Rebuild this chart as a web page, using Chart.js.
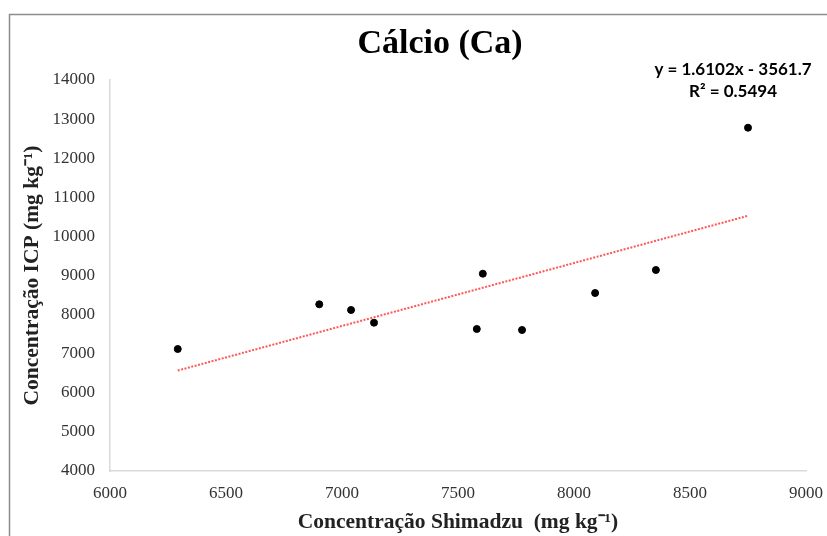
<!DOCTYPE html>
<html>
<head>
<meta charset="utf-8">
<script src="https://cdn.jsdelivr.net/npm/chart.js@4/dist/chart.umd.min.js"></script>
<style>
  html, body { margin: 0; padding: 0; background: #fff; }
  #wrap { width: 827px; height: 536px; }
</style>
</head>
<body>
<div id="wrap"><canvas id="calcio" width="827" height="536"></canvas></div>
<script>
// Ca concentrations, Shimadzu vs ICP (mg/kg)
const shimadzu = [6292, 6902, 7039, 7138, 7581, 7607, 7776, 8091, 8353, 8750];
const icp      = [7120, 8263, 8118, 7793, 7632, 9046, 7606, 8552, 9141, 12780];

// linear trend as reported
const slope = 1.6102;
const intercept = -3561.7;
const r2 = 0.5494;

const xTicks = [6000, 6500, 7000, 7500, 8000, 8500, 9000];
const yTicks = [4000, 5000, 6000, 7000, 8000, 9000, 10000, 11000, 12000, 13000, 14000];

const points = shimadzu.map((x, i) => ({x: x, y: icp[i]}));
const xMin = Math.min(...shimadzu), xMax = Math.max(...shimadzu);
const trend = [xMin, xMax].map(x => ({x: x, y: slope * x + intercept}));

const eqLine = 'y = ' + slope.toFixed(4) + 'x - ' + Math.abs(intercept).toFixed(1);
const r2Line = 'R\u00B2 = ' + r2.toFixed(4);

const serif = '"Liberation Serif", "Times New Roman", serif';

const frame = {
  id: 'frame',
  afterDraw(chart) {
    const ctx = chart.ctx;
    ctx.save();
    // outer frame (top and left edges)
    ctx.strokeStyle = '#8c8c8c';
    ctx.lineWidth = 1.5;
    ctx.beginPath();
    ctx.moveTo(9.5, 536);
    ctx.lineTo(9.5, 14.5);
    ctx.lineTo(827, 14.5);
    ctx.stroke();
    // chart title
    ctx.fillStyle = '#000';
    ctx.textAlign = 'center';
    ctx.textBaseline = 'middle';
    ctx.font = 'bold 34px ' + serif;
    ctx.fillText('Cálcio (Ca)', 440, 44);
    // trendline equation
    ctx.font = 'bold 17px Lato';
    ctx.fillText(eqLine, 733, 70);
    ctx.fillText(r2Line, 733, 92);
    ctx.restore();
  }
};

const plain = (v) => String(v);

new Chart(document.getElementById('calcio'), {
  type: 'scatter',
  data: {
    datasets: [
      {
        label: 'Ca',
        data: points,
        backgroundColor: '#000',
        borderColor: '#000',
        pointRadius: 3.5,
        pointHoverRadius: 3.5
      },
      {
        label: 'Linear',
        type: 'line',
        data: trend,
        borderColor: 'rgba(255, 70, 70, 0.9)',
        borderWidth: 2,
        borderDash: [2, 1.5],
        pointRadius: 0,
        fill: false
      }
    ]
  },
  options: {
    responsive: false,
    animation: false,
    layout: { padding: { left: 0, right: 21, top: 80, bottom: 0 } },
    plugins: {
      legend: { display: false },
      tooltip: { enabled: false },
      title: { display: false }
    },
    scales: {
      x: {
        type: 'linear',
        min: 6000,
        max: 9000,
        afterBuildTicks: (s) => { s.ticks = xTicks.map(v => ({value: v})); },
        afterFit: (s) => { s.height = 65; s.paddingLeft = 0; s.paddingRight = 0; },
        grid: { display: false, drawTicks: false },
        border: { display: true, color: '#d9d9d9', width: 1.5 },
        ticks: {
          color: '#333',
          padding: 12,
          maxRotation: 0,
          callback: plain,
          font: { family: serif, size: 17 }
        },
        title: {
          display: true,
          text: 'Concentração Shimadzu  (mg kg\u207B\u00B9)',
          color: '#222',
          font: { family: serif, size: 21.5, weight: 'bold', lineHeight: 1.2 },
          padding: { top: 0, bottom: 1 }
        }
      },
      y: {
        type: 'linear',
        min: 4000,
        max: 14000,
        afterBuildTicks: (s) => { s.ticks = yTicks.map(v => ({value: v})); },
        afterFit: (s) => { s.width = 110; s.paddingTop = 0; s.paddingBottom = 0; },
        grid: { display: false, drawTicks: false },
        border: { display: true, color: '#d9d9d9', width: 1.5 },
        ticks: {
          color: '#333',
          padding: 15,
          callback: plain,
          font: { family: serif, size: 17 }
        },
        title: {
          display: true,
          text: 'Concentração ICP (mg kg\u207B\u00B9)',
          color: '#222',
          font: { family: serif, size: 21.5, weight: 'bold', lineHeight: 1.2 },
          padding: { top: 20, bottom: 0 }
        }
      }
    }
  },
  plugins: [frame]
});
</script>
</body>
</html>
